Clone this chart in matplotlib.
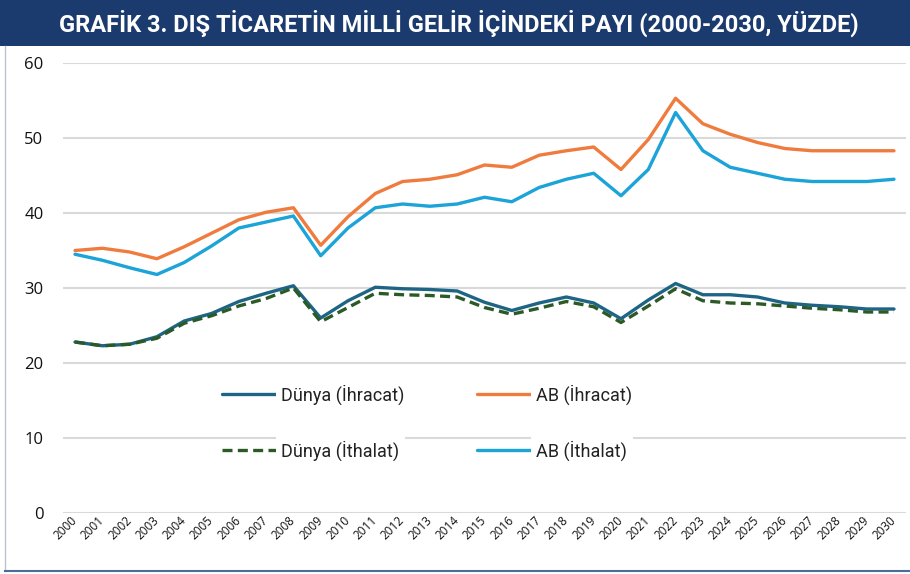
import matplotlib
matplotlib.use("Agg")
import matplotlib.pyplot as plt
from matplotlib.patches import Rectangle
from matplotlib.lines import Line2D
import matplotlib.transforms as mtransforms

years = list(range(2000, 2031))
year_labels = [str(y) for y in years]

dunya_ihracat = [22.8, 22.3, 22.5, 23.5, 25.6, 26.6, 28.2, 29.3, 30.3, 26.0,
                 28.3, 30.1, 29.9, 29.8, 29.6, 28.1, 27.0, 28.0, 28.8, 28.0,
                 25.9, 28.4, 30.6, 29.1, 29.1, 28.8, 28.0, 27.7, 27.5, 27.2, 27.2]
dunya_ithalat = [22.8, 22.3, 22.5, 23.3, 25.3, 26.3, 27.6, 28.6, 30.0, 25.5,
                 27.4, 29.3, 29.1, 29.0, 28.8, 27.4, 26.5, 27.3, 28.2, 27.5,
                 25.4, 27.6, 29.9, 28.3, 28.0, 27.9, 27.6, 27.3, 27.1, 26.8, 26.8]
ab_ihracat = [35.0, 35.3, 34.8, 33.9, 35.5, 37.3, 39.1, 40.1, 40.7, 35.7,
              39.5, 42.6, 44.2, 44.5, 45.1, 46.4, 46.1, 47.7, 48.3, 48.8,
              45.8, 49.8, 55.3, 51.9, 50.5, 49.4, 48.6, 48.3, 48.3, 48.3, 48.3]
ab_ithalat = [34.5, 33.7, 32.7, 31.8, 33.4, 35.6, 38.0, 38.8, 39.6, 34.3,
              38.0, 40.7, 41.2, 40.9, 41.2, 42.1, 41.5, 43.4, 44.5, 45.3,
              42.3, 45.8, 53.4, 48.3, 46.1, 45.3, 44.5, 44.2, 44.2, 44.2, 44.5]

series_names = ["Dünya (İhracat)", "Dünya (İthalat)", "AB (İhracat)", "AB (İthalat)"]
title_text = "GRAFİK 3. DIŞ TİCARETİN MİLLİ GELİR İÇİNDEKİ PAYI (2000-2030, YÜZDE)"
y_ticks = [0, 10, 20, 30, 40, 50, 60]

W, H = 910, 574
fig = plt.figure(figsize=(W / 100, H / 100), dpi=100)
fig.patch.set_facecolor("white")

# banner
fig.add_artist(Rectangle((0, 1 - 46 / H), 1, 46 / H, transform=fig.transFigure,
                         facecolor="#1b3b6e", edgecolor="none", zorder=0))
fig.text(459 / W, 1 - 23 / H, title_text, color="white", fontsize=17,
         fontweight="bold", family=["Roboto", "DejaVu Sans"],
         ha="center", va="center")
# border
fig.add_artist(Line2D([5 / W, 5 / W], [1 - 46 / H, 1 - 571 / H], transform=fig.transFigure,
                      color="#b9c2cf", lw=1.0))
fig.add_artist(Line2D([5 / W, 1], [1 - 571 / H, 1 - 571 / H], transform=fig.transFigure,
                      color="#4a6d9a", lw=1.5))

left, right = 63 / W, 906 / W
bottom, top = 1 - 513 / H, 1 - 63 / H
ax = fig.add_axes([left, bottom, right - left, top - bottom])
x = list(range(len(years)))

ax.plot(x, dunya_ihracat, color="#1e6585", lw=2.4, label=series_names[0], zorder=4,
        solid_capstyle="round")
ax.plot(x, dunya_ithalat, color="#2b5a26", lw=2.4, ls=(0, (3, 1.6)), label=series_names[1],
        zorder=5)
ax.plot(x, ab_ihracat, color="#ef7c3e", lw=2.4, label=series_names[2], zorder=4,
        solid_capstyle="round")
ax.plot(x, ab_ithalat, color="#1ca3d8", lw=2.4, label=series_names[3], zorder=4,
        solid_capstyle="round")

ax.set_xlim(-0.44, 30.44)
ax.set_ylim(0, 60)
ax.set_yticks(y_ticks)
ax.set_yticklabels([str(v) for v in y_ticks], fontsize=12, family=["Open Sans", "DejaVu Sans"])
ax.set_xticks(x)
ax.set_xticklabels(year_labels, fontsize=8.5, family=["Open Sans", "DejaVu Sans"],
                   rotation=45, ha="right", va="center", rotation_mode="anchor")
offset = mtransforms.ScaledTranslation(-7 / 100, -16 / 100, fig.dpi_scale_trans)
for lab in ax.get_xticklabels():
    lab.set_transform(lab.get_transform() + offset)
ax.tick_params(axis="y", length=0, pad=14, colors="#111111")
ax.tick_params(axis="x", length=0, pad=4, colors="#111111")
ax.grid(axis="y", color="#d9d9d9", lw=1.5, zorder=0)
ax.set_axisbelow(True)
for s in ax.spines.values():
    s.set_visible(False)

leg = ax.legend(ncol=2, loc="upper left", bbox_to_anchor=(143 / 843, (513 - 368) / 450),
                frameon=False, handlelength=3.0, handletextpad=0.28,
                columnspacing=4.0, labelspacing=2.0,
                prop={"family": ["Roboto", "DejaVu Sans"], "size": 13})
for t in leg.get_texts():
    t.set_color("#222222")
    t.set_bbox(dict(facecolor="white", edgecolor="none", pad=4))

fig.savefig("out.png", dpi=100)
